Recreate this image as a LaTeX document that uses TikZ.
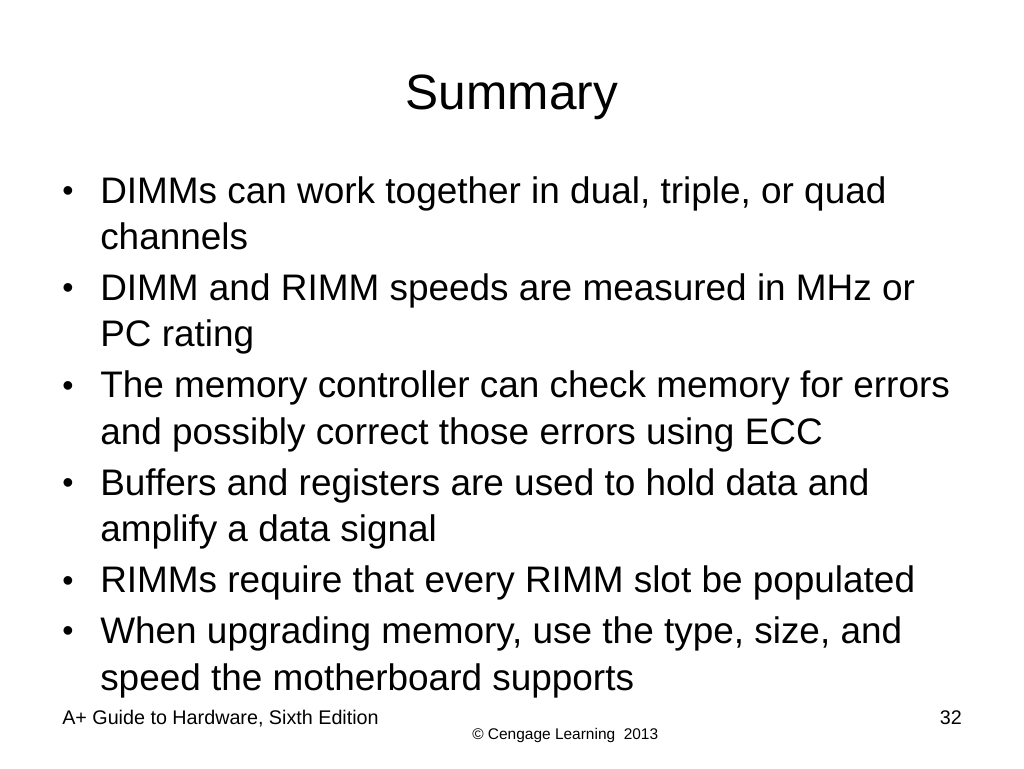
\documentclass[tikz,border=0pt]{standalone}
\usepackage{fontspec}
\setmainfont{Liberation Sans}
\begin{document}
\begin{tikzpicture}[x=0.75pt,y=-0.75pt,
  titletext/.style={anchor=base, inner sep=0pt, font=\fontsize{37.2pt}{44pt}\selectfont},
  bodytext/.style={anchor=base west, inner sep=0pt, font=\fontsize{27.7pt}{33pt}\selectfont},
  bulletmark/.style={anchor=base west, inner sep=0pt, yshift=1.2pt, font=\fontsize{24pt}{30pt}\selectfont},
  foottext/.style={anchor=base west, inner sep=0pt, font=\fontsize{14.8pt}{17pt}\selectfont},
  copytext/.style={anchor=base west, inner sep=0pt, font=\fontsize{11.6pt}{14pt}\selectfont}]
\useasboundingbox[fill=white] (0,0) rectangle (1024,768);
\node[titletext] (title) at (512,109) {Summary};
% bullets
\node[bulletmark] (b1) at (62,203) {•};
\node[bodytext] (l1a) at (100,203) {DIMMs can work together in dual, triple, or quad};
\node[bodytext] (l1b) at (100,249.5) {channels};
\node[bulletmark] (b2) at (62,300.4) {•};
\node[bodytext] (l2a) at (100,300.4) {DIMM and RIMM speeds are measured in MHz or};
\node[bodytext] (l2b) at (100,346.9) {PC rating};
\node[bulletmark] (b3) at (62,397.8) {•};
\node[bodytext] (l3a) at (100,397.8) {The memory controller can check memory for errors};
\node[bodytext] (l3b) at (100,444.3) {and possibly correct those errors using ECC};
\node[bulletmark] (b4) at (62,495.2) {•};
\node[bodytext] (l4a) at (100,495.2) {Buffers and registers are used to hold data and};
\node[bodytext] (l4b) at (100,541.7) {amplify a data signal};
\node[bulletmark] (b5) at (62,592.6) {•};
\node[bodytext] (l5a) at (100,592.6) {RIMMs require that every RIMM slot be populated};
\node[bulletmark] (b6) at (62,643.5) {•};
\node[bodytext] (l6a) at (100,643.5) {When upgrading memory, use the type, size, and};
\node[bodytext] (l6b) at (100,690) {speed the motherboard supports};
% footer
\node[foottext] (foot) at (62,724) {A+ Guide to Hardware, Sixth Edition};
\node[foottext, anchor=base east] (page) at (962,724) {32};
\node[copytext] (copy) at (472,739) {© Cengage Learning\ \ 2013};
\end{tikzpicture}
\end{document}
